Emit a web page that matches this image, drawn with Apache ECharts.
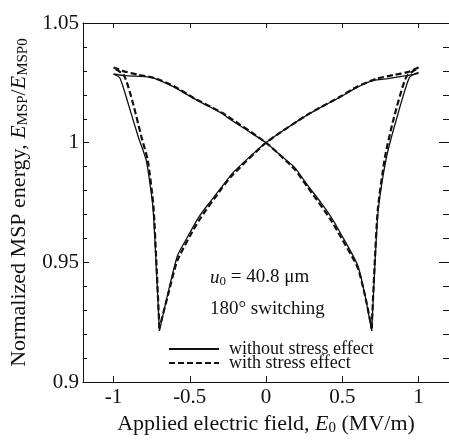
<!DOCTYPE html>
<html>
<head>
<meta charset="utf-8">
<script src="https://cdn.jsdelivr.net/npm/echarts@6/dist/echarts.min.js"></script>
<style>
  html, body { margin: 0; padding: 0; background: #fff; }
  #chart { width: 449px; height: 441px; }
</style>
</head>
<body>
<div id="chart"></div>
<script>
// without stress effect: E going 1 -> -1, upper right down to the left cusp
var solidDownA = [
  [1.0, 1.029], [0.919, 1.028], [0.8, 1.0268], [0.703, 1.026], [0.6, 1.0232],
  [0.488, 1.0191], [0.38, 1.0155], [0.272, 1.0116], [0.13, 1.0058], [0, 1.0],
  [-0.1, 0.9945], [-0.224, 0.987], [-0.289, 0.9816], [-0.37, 0.975], [-0.44, 0.969],
  [-0.52, 0.960], [-0.58, 0.9529], [-0.64, 0.938], [-0.699, 0.9214]
];
// left cusp, steep rise to E = -1
var solidDownB = [
  [-0.699, 0.9214], [-0.72, 0.9487], [-0.742, 0.9734], [-0.785, 0.9925], [-0.839, 1.0027],
  [-0.904, 1.0164], [-0.958, 1.027], [-1.0, 1.0287]
];
// without stress effect: E going -1 -> 1
var solidUpA = [
  [-1.0, 1.0287], [-0.92, 1.028], [-0.753, 1.0273], [-0.602, 1.0232], [-0.472, 1.0184],
  [-0.37, 1.015], [-0.289, 1.0123], [-0.246, 1.0102], [-0.12, 1.005], [0, 1.0],
  [0.1, 0.9945], [0.186, 0.9898], [0.272, 0.9823], [0.36, 0.975], [0.423, 0.9693],
  [0.487, 0.9624], [0.6, 0.949], [0.65, 0.936], [0.693, 0.9214]
];
var solidUpB = [
  [0.693, 0.9214], [0.714, 0.9487], [0.736, 0.972], [0.79, 0.9939], [0.854, 1.0095],
  [0.941, 1.0273], [1.0, 1.0294]
];
// with stress effect
var dashDownA = [
  [1.0, 1.0314], [0.93, 1.0295], [0.84, 1.0283], [0.73, 1.0268], [0.6, 1.0235],
  [0.488, 1.0193], [0.272, 1.0117], [0, 1.0], [-0.224, 0.9862], [-0.289, 0.981],
  [-0.44, 0.9675], [-0.58, 0.951], [-0.64, 0.937], [-0.699, 0.9225]
];
var dashDownB = [
  [-0.699, 0.9225], [-0.718, 0.9487], [-0.738, 0.9734], [-0.775, 0.9925], [-0.818, 1.0027],
  [-0.872, 1.0164], [-0.93, 1.028], [-1.0, 1.0314]
];
var dashUpA = [
  [-1.0, 1.0314], [-0.93, 1.0298], [-0.84, 1.0284], [-0.73, 1.027], [-0.6, 1.0235],
  [-0.472, 1.0186], [-0.289, 1.0125], [0, 1.0], [0.186, 0.989], [0.272, 0.9815],
  [0.423, 0.968], [0.487, 0.961], [0.6, 0.948], [0.65, 0.936], [0.693, 0.9225]
];
var dashUpB = [
  [0.693, 0.9225], [0.712, 0.9487], [0.733, 0.972], [0.78, 0.9939], [0.835, 1.0095],
  [0.92, 1.0275], [1.0, 1.0314]
];
var xTicks = [-1, -0.5, 0, 0.5, 1];
var seriesNames = ['without stress effect', 'with stress effect'];

var font = "'Liberation Serif', 'Times New Roman', serif";
var ink = '#111';
var subStyle = { fontFamily: font, fontSize: 15, color: ink, padding: [9, 0, 0, 0] };
var itStyle = { fontFamily: font, fontSize: 22, color: ink, fontStyle: 'italic' };

var chart = echarts.init(document.getElementById('chart'));

function lineSeries(name, data, dashed) {
  return {
    name: name,
    type: 'line',
    data: data,
    symbol: 'none',
    smooth: 0.2,
    animation: false,
    itemStyle: { color: 'rgba(0,0,0,0)', borderColor: 'rgba(0,0,0,0)' },
    lineStyle: { color: ink, width: dashed ? 2.2 : 1.3, type: dashed ? [6, 3] : 'solid' }
  };
}

chart.setOption({
  animation: false,
  grid: { left: 83, top: 23, right: -4, bottom: 58 },
  legend: {
    data: seriesNames,
    orient: 'vertical',
    left: 163,
    top: 335,
    itemWidth: 50,
    itemHeight: 14,
    itemGap: -4,
    itemStyle: { color: 'rgba(0,0,0,0)', borderWidth: 0 },
    textStyle: { fontFamily: font, fontSize: 18, color: ink, padding: [0, 0, 0, 5] }
  },
  xAxis: [{
    type: 'value', min: -1.2, max: 1.2,
    name: 'Applied electric field, {i|E}{s|0} (MV/m)',
    nameLocation: 'middle', nameGap: 27,
    nameTextStyle: { fontFamily: font, fontSize: 22, color: ink, rich: { i: itStyle, s: subStyle } },
    axisLine: { onZero: false, lineStyle: { color: ink, width: 1 } },
    axisTick: { inside: true, length: 6, customValues: xTicks, lineStyle: { color: ink } },
    axisLabel: { customValues: xTicks, margin: 5, fontFamily: font, fontSize: 21, color: ink },
    splitLine: { show: false }
  }, {
    type: 'value', min: -1.2, max: 1.2, position: 'top',
    axisLine: { show: true, onZero: false, lineStyle: { color: ink, width: 1 } },
    axisTick: { inside: true, length: 5, customValues: xTicks, lineStyle: { color: ink } },
    axisLabel: { show: false },
    splitLine: { show: false }
  }],
  yAxis: [{
    type: 'value', min: 0.9, max: 1.05, interval: 0.05,
    name: 'Normalized MSP energy, {i|E}{s|MSP}/{i|E}{s|MSP0}',
    nameLocation: 'middle', nameGap: 52,
    nameTextStyle: { fontFamily: font, fontSize: 22, color: ink, rich: { i: itStyle, s: subStyle } },
    axisLine: { show: true, onZero: false, lineStyle: { color: ink, width: 1 } },
    axisTick: { inside: true, length: 6, lineStyle: { color: ink } },
    minorTick: { show: true, splitNumber: 5, length: 4, lineStyle: { color: ink } },
    axisLabel: { margin: 4, fontFamily: font, fontSize: 21, color: ink },
    splitLine: { show: false },
    minorSplitLine: { show: false }
  }, {
    type: 'value', min: 0.9, max: 1.05, interval: 0.05, position: 'right',
    axisLine: { show: true, onZero: false, lineStyle: { color: ink, width: 1 } },
    axisTick: { inside: true, length: 10, lineStyle: { color: ink } },
    minorTick: { show: true, splitNumber: 5, length: 6, lineStyle: { color: ink } },
    axisLabel: { show: false },
    splitLine: { show: false },
    minorSplitLine: { show: false }
  }],
  graphic: [{
    type: 'text', left: 210, top: 268,
    style: {
      text: '{u|u}{s|0} = 40.8 μm',
      fontFamily: font, fontSize: 19, fill: ink,
      rich: {
        u: { fontFamily: font, fontSize: 19, fontStyle: 'italic', color: ink },
        s: { fontFamily: font, fontSize: 13, color: ink, padding: [8, 0, 0, 0] }
      }
    }
  }, {
    type: 'text', left: 210, top: 300,
    style: { text: '180° switching', fontFamily: font, fontSize: 19, fill: ink }
  }],
  series: [
    lineSeries(seriesNames[0], solidDownA, false),
    lineSeries(seriesNames[0], solidDownB, false),
    lineSeries(seriesNames[0], solidUpA, false),
    lineSeries(seriesNames[0], solidUpB, false),
    lineSeries(seriesNames[1], dashDownA, true),
    lineSeries(seriesNames[1], dashDownB, true),
    lineSeries(seriesNames[1], dashUpA, true),
    lineSeries(seriesNames[1], dashUpB, true)
  ]
});
</script>
</body>
</html>
